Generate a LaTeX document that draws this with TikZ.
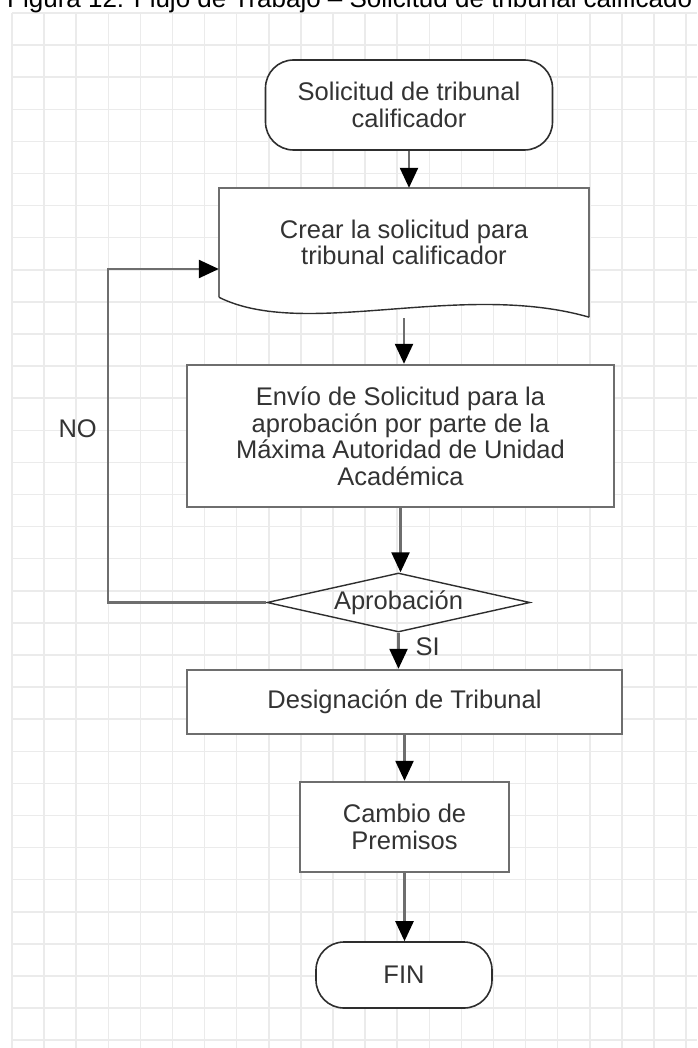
\documentclass[tikz,border=0pt]{standalone}
\usepackage{fontspec}
\setmainfont{Liberation Sans}
\usetikzlibrary{arrows.meta, shapes.geometric}
\definecolor{txt}{HTML}{333333}
\definecolor{edge}{HTML}{6E6E6E}
\definecolor{dark}{HTML}{2E2E2E}
\definecolor{cuadro}{HTML}{EBEBEB}

\begin{document}
\begin{tikzpicture}[x=1pt, y=-1pt,
  every node/.style={text=txt, font=\fontsize{25.5}{26.5}\selectfont, align=center},
  term/.style={draw=dark, line width=1.6pt, fill=white, rounded corners=28pt, inner sep=0pt},
  proc/.style={draw=edge, line width=2.4pt, fill=white, inner sep=0pt},
  decis/.style={diamond, aspect=4.46, draw=dark, line width=1.4pt, inner sep=0pt, minimum width=263pt, minimum height=59pt},
  flow/.style={draw=edge, line width=2.4pt, -{Triangle[length=20pt, width=18pt, color=black]}},
  etiq/.style={inner sep=1pt}]
\useasboundingbox (0,0) rectangle (697,1048);
\foreach \i in {0,...,21} \draw[cuadro, line width=1.5pt] (12+32.1*\i,13) -- (12+32.1*\i,1048);
\foreach \j in {0,...,32} \draw[cuadro, line width=1.5pt] (12,13+32.1*\j) -- (697,13+32.1*\j);
\node[anchor=base west, text=black, font=\fontsize{26}{30}\selectfont, inner sep=0pt] (titulo) at (7,8) {Figura 12: Flujo de Trabajo – Solicitud de tribunal calificado};

\node[term, minimum width=287pt, minimum height=90pt] (inicio) at (409,105) {Solicitud de tribunal\\calificador};
\node[fill=white, inner sep=0pt, minimum width=370pt, minimum height=109pt] (crear) at (404,242.5) {Crear la solicitud para\\tribunal calificador};
\fill[white] (crear.south west) -- (crear.south east) -- ([yshift=-20pt]crear.south east) .. controls +(-129,-37) and +(86,43) .. (crear.south west) -- cycle;
\draw[edge, line width=2.4pt] (crear.south west) -- (crear.north west) -- (crear.north east) -- ([yshift=-20pt]crear.south east);
\draw[dark, line width=1.4pt] ([yshift=-20pt]crear.south east) .. controls +(-129,-37) and +(86,43) .. (crear.south west);
\node[proc, minimum width=427pt, minimum height=142pt] (envio) at (400.5,436) {Envío de Solicitud para la\\aprobación por parte de la\\Máxima Autoridad de Unidad\\Académica};
\node[decis] (aprob) at (398.5,602.5) {Aprobación};
\node[proc, minimum width=435pt, minimum height=64pt] (desig) at (404.5,702) {Designación de Tribunal};
\node[proc, minimum width=209pt, minimum height=90pt] (cambio) at (404.5,827) {Cambio de\\Premisos};
\node[term, minimum width=176pt, minimum height=66pt] (fin) at (404,975) {FIN};

\coordinate (crearsal) at ([yshift=-21pt]crear.south);
\coordinate (giro) at (108,269);
\draw[flow] (inicio.south) -- (inicio.south |- crear.north);
\draw[flow] (crearsal) -- (crearsal |- envio.north);
\draw[flow] (envio.south) -- (envio.south |- aprob.north);
\draw[flow] (aprob.south) -- (aprob.south |- desig.north) node[etiq, pos=.39, right=15pt] {SI};
\draw[flow] (desig.south) -- (desig.south |- cambio.north);
\draw[flow] (cambio.south) -- (cambio.south |- fin.north);
\draw[flow] (aprob.west) -| (giro) node[etiq, pos=.76, left=9pt] {NO} -- (giro -| crear.west);
\end{tikzpicture}
\end{document}
